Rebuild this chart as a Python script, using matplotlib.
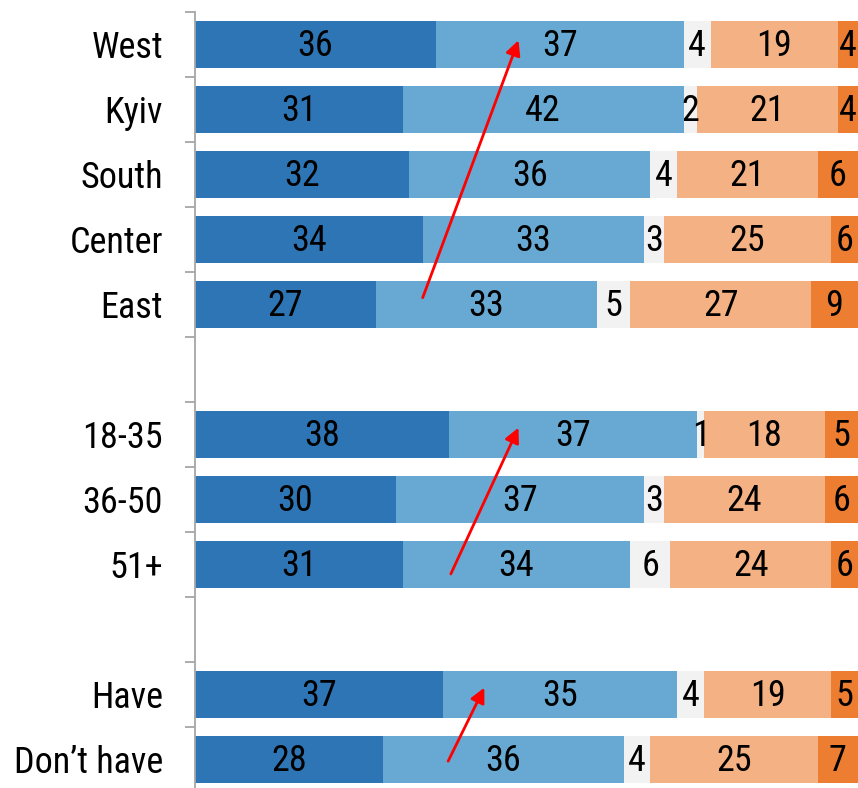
import matplotlib.pyplot as plt
import numpy as np

# rows in display order; None marks an empty spacer slot
CATEGORIES = ["West", "Kyiv", "South", "Center", "East", None,
              "18-35", "36-50", "51+", None, "Have", "Don\u2019t have"]

DARK_BLUE = [36, 31, 32, 34, 27, None, 38, 30, 31, None, 37, 28]
LIGHT_BLUE = [37, 42, 36, 33, 33, None, 37, 37, 34, None, 35, 36]
NEUTRAL = [4, 2, 4, 3, 5, None, 1, 3, 6, None, 4, 4]
LIGHT_ORANGE = [19, 21, 21, 25, 27, None, 18, 24, 24, None, 19, 25]
ORANGE = [4, 4, 6, 6, 9, None, 5, 6, 6, None, 5, 7]

SERIES = [DARK_BLUE, LIGHT_BLUE, NEUTRAL, LIGHT_ORANGE, ORANGE]
COLORS = ["#2E75B6", "#67A9D3", "#F2F2F2", "#F4B183", "#ED7D31"]

# red trend arrows: (x_tail, row_tail, x_head, row_head)
ARROWS = [
    (34.0, 3.9, 48.3, -0.06),
    (38.2, 8.15, 48.3, 5.9),
    (37.8, 11.03, 43.2, 9.9),
]

XMAX = 99.0

plt.rcParams["font.family"] = ["Roboto Condensed", "Liberation Sans", "DejaVu Sans"]

fig = plt.figure(figsize=(8.58, 7.88), dpi=100)
ax = fig.add_axes([195 / 858, -3.7 / 788, 1 - 195 / 858, 780 / 788])

n = len(CATEGORIES)
ys = np.arange(n)
for i in range(n):
    if CATEGORIES[i] is None:
        continue
    left = 0
    for vals, col in zip(SERIES, COLORS):
        v = vals[i]
        ax.barh(ys[i], v, left=left, height=0.72, color=col, edgecolor="none")
        # keep the label inside the visible part of the bar
        xc = min(left + v / 2, (left + XMAX) / 2)
        ax.text(xc, ys[i] + 0.02, str(v), ha="center", va="center",
                fontsize=26, color="black")
        left += v

for x0, y0, x1, y1 in ARROWS:
    ax.annotate("", xy=(x1, y1), xytext=(x0, y0),
                arrowprops=dict(arrowstyle="-|>", color="red", lw=2,
                                mutation_scale=22, shrinkA=0, shrinkB=0))

ax.set_xlim(0, XMAX)
ax.set_ylim(n - 0.5, -0.5)

ax.set_yticks(ys)
ax.set_yticklabels([c if c else "" for c in CATEGORIES], fontsize=26)
ax.set_yticks(np.arange(-0.5, n, 1), minor=True)
ax.tick_params(axis="y", which="major", length=0, pad=23)
ax.tick_params(axis="y", which="minor", length=7, width=1.3,
               color="#A6A6A6", direction="out")
ax.set_xticks([])
for s in ["top", "right", "bottom"]:
    ax.spines[s].set_visible(False)
ax.spines["left"].set_color("#A6A6A6")
ax.spines["left"].set_linewidth(1.3)

fig.savefig("out.png", dpi=100)
